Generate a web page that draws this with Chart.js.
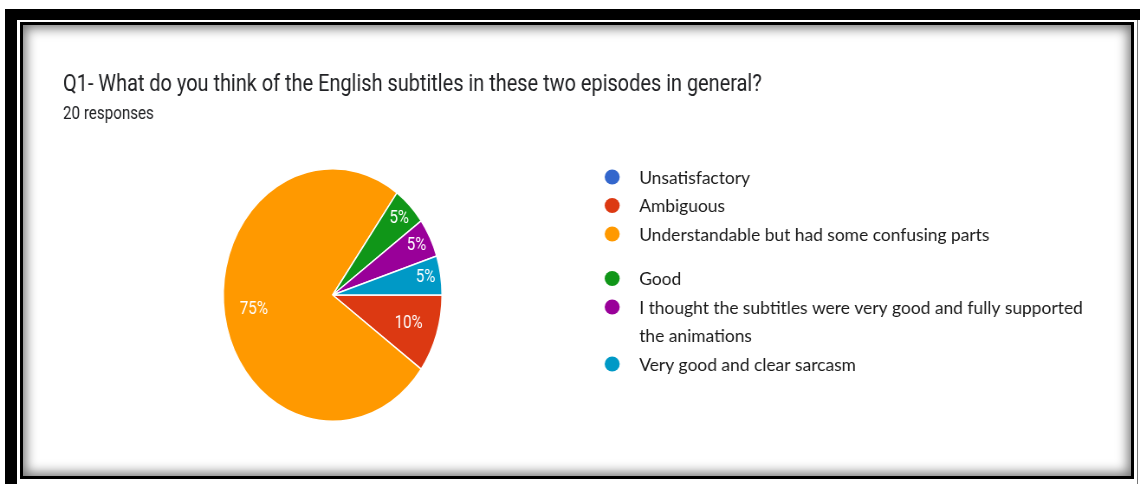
<!DOCTYPE html>
<html>
<head>
<meta charset="utf-8">
<title>Q1 responses</title>
<script src="https://cdn.jsdelivr.net/npm/chart.js@4.4.1/dist/chart.umd.min.js"></script>
<style>
  html, body { margin: 0; padding: 0; background: #fff; }
  body { width: 1140px; height: 484px; position: relative; overflow: hidden; }
  .frame-top { position: absolute; left: 5px; top: 9px; width: 1135px; height: 11px; background: #000; }
  .frame-left { position: absolute; left: 5px; top: 9px; width: 12px; height: 475px; background: #000; }
  .frame-right { position: absolute; left: 1137px; top: 20px; width: 1px; height: 464px; background: #777; }
  .card {
    position: absolute; left: 20px; top: 22px; width: 1108px; height: 451px;
    border: 3px solid #000; background: #fff;
    box-shadow: inset 0 0 12px 3px rgba(0, 0, 0, 0.55);
  }
  #chart { position: absolute; left: 0; top: 0; }
</style>
</head>
<body>
<div class="frame-top"></div>
<div class="frame-left"></div>
<div class="frame-right"></div>
<div class="card"></div>
<canvas id="chart" width="1316" height="484" style="width:1140px;height:484px"></canvas>
<script>
// the form export is squeezed horizontally, so the canvas is drawn wider than it is shown
const SQUEEZE = 0.866;

const questionTitle = 'Q1- What do you think of the English subtitles in these two episodes in general?';
const responseCount = '20 responses';
const answerLabels = [
  ' Unsatisfactory',
  'Ambiguous',
  'Understandable but had some confusing parts',
  'Good',
  'I thought the subtitles were very good and fully supported the animations',
  'Very good and clear sarcasm'
];
const answerCounts = [0, 2, 15, 1, 1, 1];
const answerColors = ['#3366cc', '#dc3912', '#ff9900', '#109618', '#990099', '#0099c6'];

function wrapText(ctx, text, maxWidth) {
  const words = text.split(' ');
  const lines = [];
  let line = '';
  words.forEach(w => {
    const test = line ? line + ' ' + w : w;
    if (line && ctx.measureText(test).width > maxWidth) {
      lines.push(line);
      line = w;
    } else {
      line = test;
    }
  });
  lines.push(line);
  return lines;
}

const surveyText = {
  id: 'surveyText',
  afterDraw(chart) {
    const ctx = chart.ctx;
    const total = answerCounts.reduce((a, b) => a + b, 0);

    // percentages inside the slices
    ctx.save();
    ctx.fillStyle = '#fff';
    ctx.font = '17.5px Roboto';
    ctx.textAlign = 'center';
    ctx.textBaseline = 'middle';
    chart.getDatasetMeta(0).data.forEach((arc, i) => {
      const v = answerCounts[i];
      if (!v) return;
      const p = arc.getProps(['x', 'y', 'startAngle', 'endAngle', 'outerRadius'], true);
      const mid = (p.startAngle + p.endAngle) / 2;
      const share = v / total;
      const r = p.outerRadius * (share < 0.08 ? 0.86 : 0.73);
      ctx.fillText(Math.round(share * 100) + '%', p.x + Math.cos(mid) * r, p.y + Math.sin(mid) * r);
    });

    // question heading
    ctx.textAlign = 'left';
    ctx.textBaseline = 'alphabetic';
    ctx.fillStyle = '#202124';
    ctx.font = '23px Roboto';
    ctx.fillText(questionTitle, 63 / SQUEEZE, 90.5);
    ctx.font = '17.5px Roboto';
    ctx.fillText(responseCount, 63 / SQUEEZE, 119);
    ctx.restore();

    // legend, drawn in page pixels
    ctx.save();
    ctx.scale(1 / SQUEEZE, 1);
    ctx.font = '17.4px Lato';
    ctx.textBaseline = 'middle';
    let y = 178;
    answerLabels.forEach((label, i) => {
      const lines = wrapText(ctx, label, 450);
      ctx.beginPath();
      ctx.fillStyle = answerColors[i];
      ctx.arc(612, y - 1, 7.5, 0, Math.PI * 2);
      ctx.fill();
      ctx.fillStyle = '#1a1a1a';
      lines.forEach(line => {
        ctx.fillText(line, 639, y);
        y += 28.5;
      });
      if (i === 2) y += 16;
    });
    ctx.restore();
  }
};

new Chart(document.getElementById('chart'), {
  type: 'pie',
  data: {
    labels: answerLabels,
    datasets: [{
      data: answerCounts,
      backgroundColor: answerColors,
      borderColor: '#ffffff',
      borderWidth: 1.5
    }]
  },
  options: {
    responsive: false,
    devicePixelRatio: 1,
    animation: false,
    events: [],
    rotation: 90,
    layout: { padding: { left: 257, right: 805, top: 168, bottom: 62 } },
    plugins: {
      legend: { display: false },
      tooltip: { enabled: false }
    }
  },
  plugins: [surveyText]
});
</script>
</body>
</html>
